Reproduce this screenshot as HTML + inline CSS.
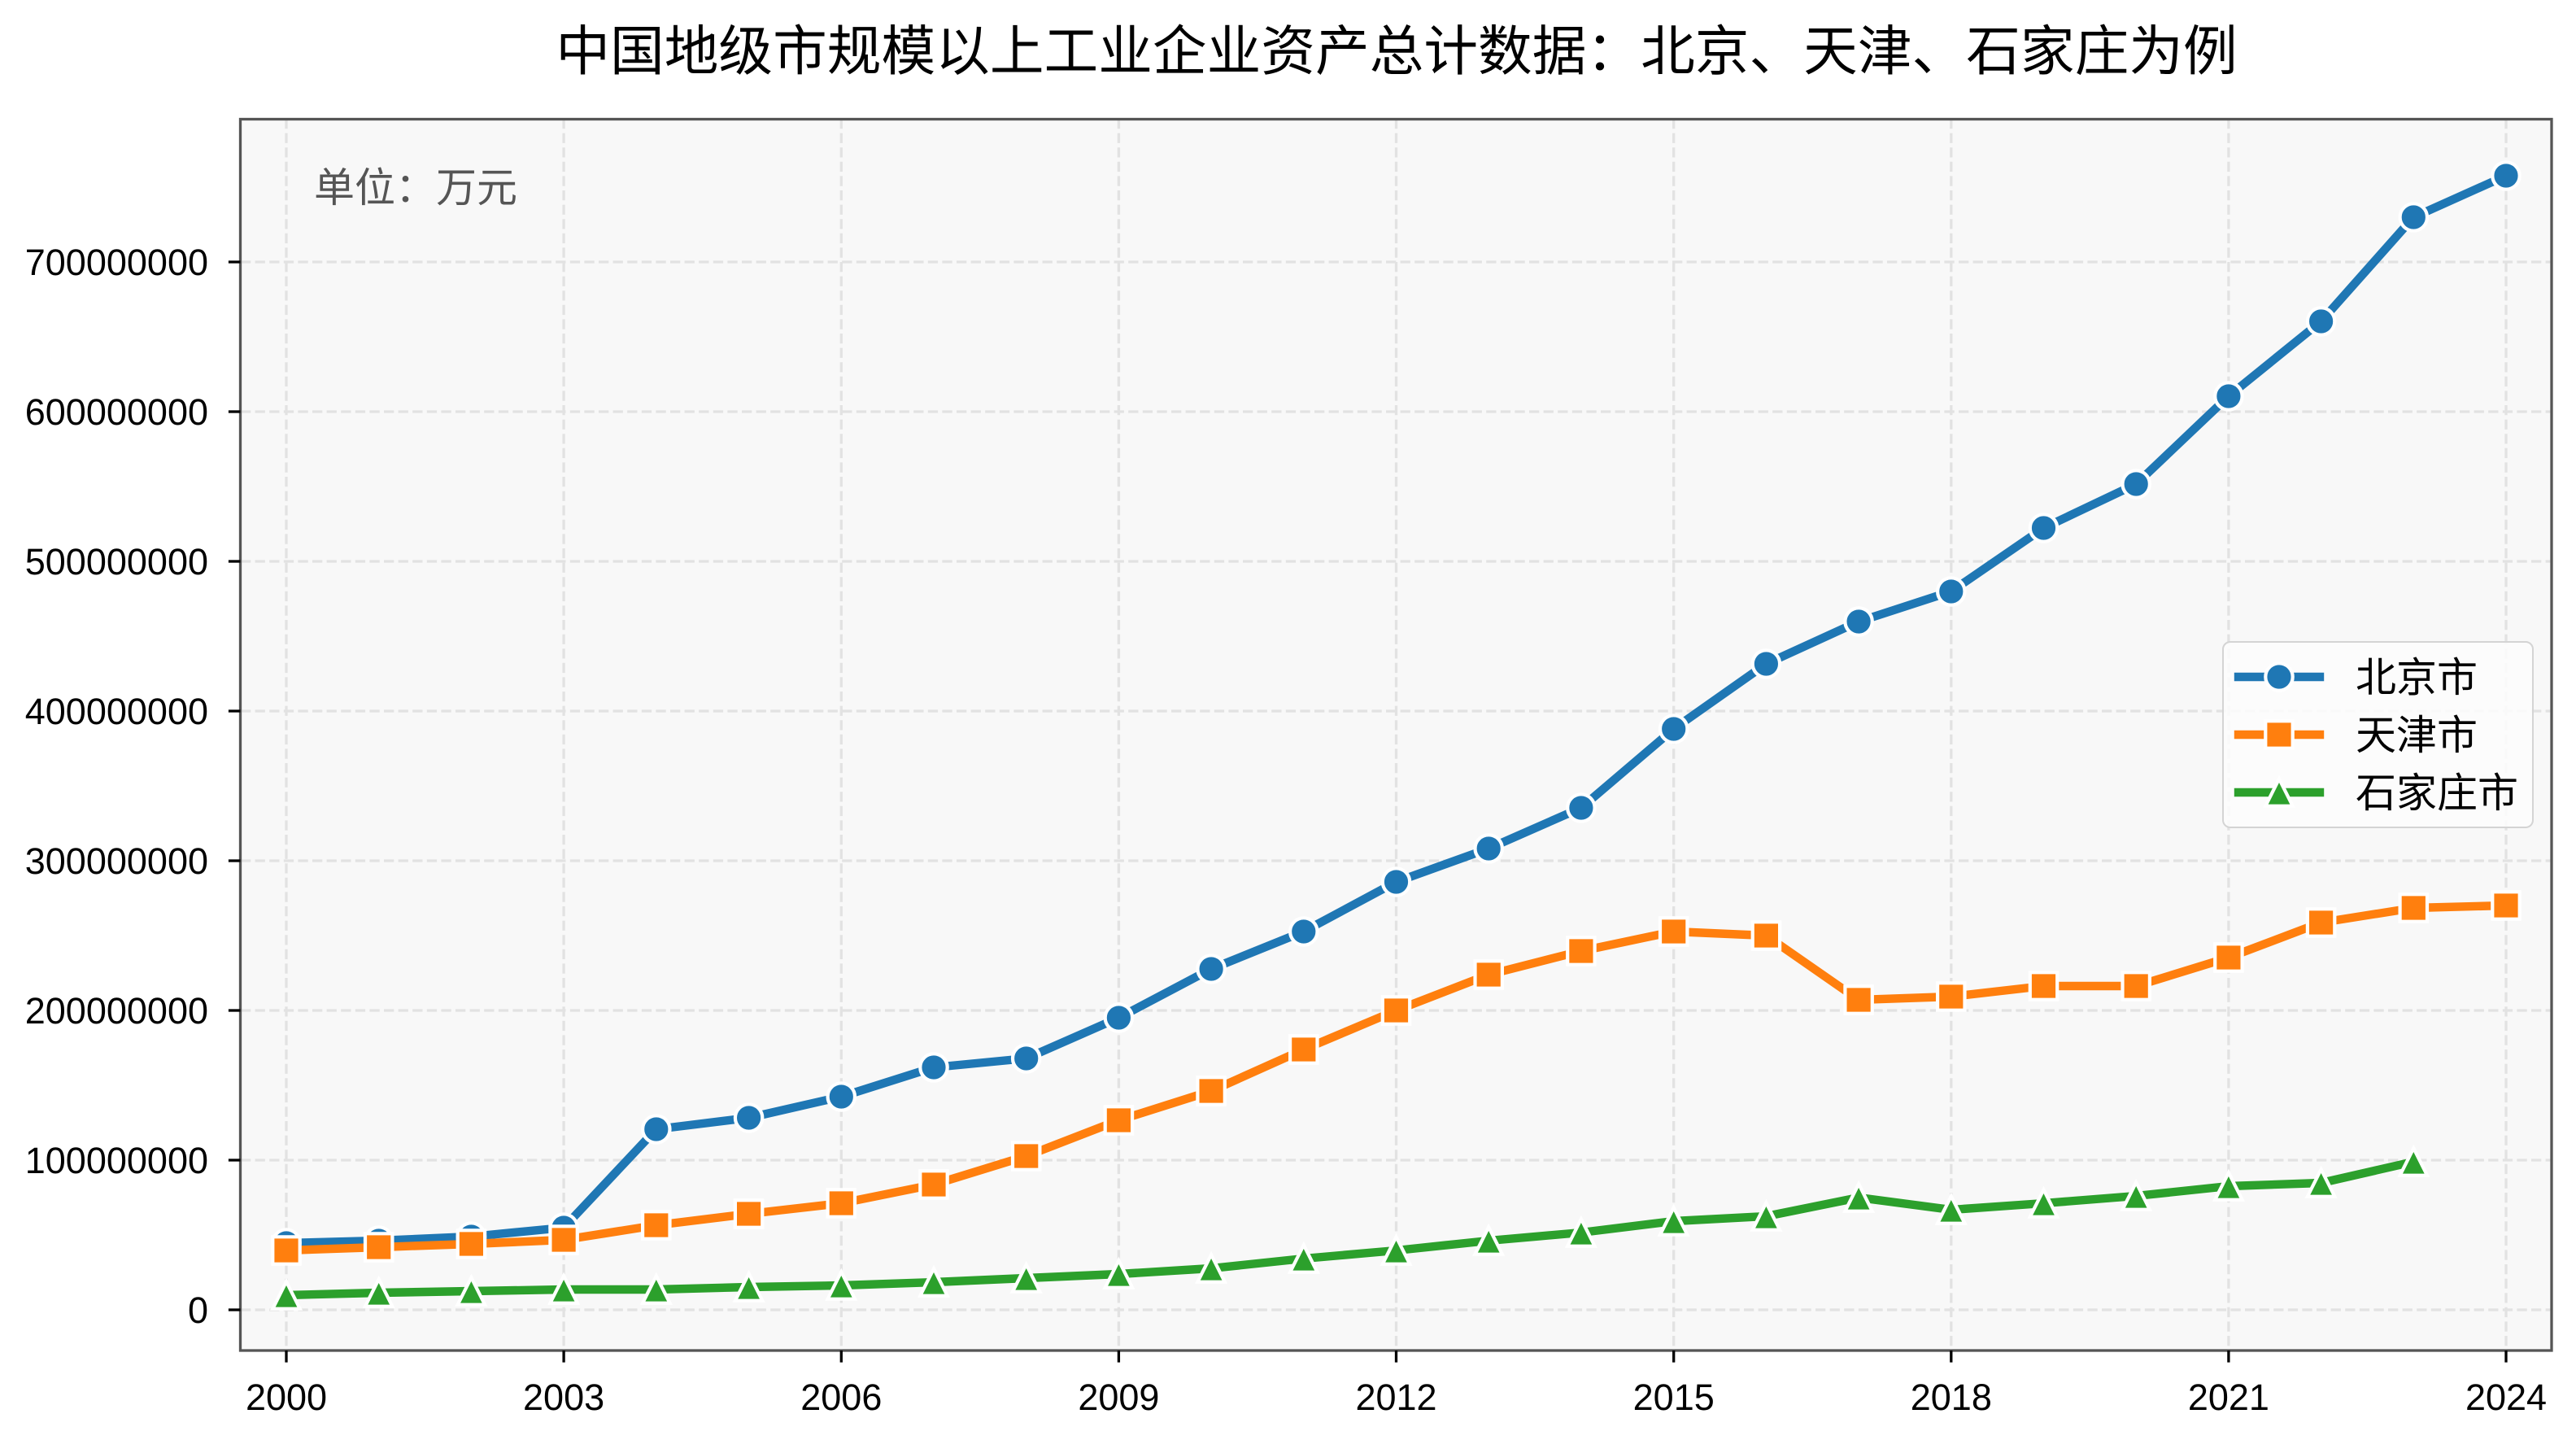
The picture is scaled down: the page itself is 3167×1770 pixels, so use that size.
<!DOCTYPE html>
<html>
<head>
<meta charset="utf-8">
<style>
html,body{margin:0;padding:0;background:#fff;}
svg{display:block;}
.cjk{font-family:"Liberation Sans","WenQuanYi Zen Hei","Noto Sans CJK SC",sans-serif;}
.num{font-family:"Liberation Sans",sans-serif;font-size:45px;fill:#000;}
</style>
</head>
<body>
<svg width="3167" height="1770" viewBox="0 0 3167 1770" xmlns="http://www.w3.org/2000/svg">
<defs>
  <path id="sq" d="M-16.7,-16.7h33.4v33.4h-33.4z"/>
  <path id="tri" d="M0,-16.7L-16.7,16.7L16.7,16.7z"/>
  <clipPath id="ax"><rect x="295.5" y="146.5" width="2841.5" height="1513.5"/></clipPath>
</defs>
<rect x="0" y="0" width="3167" height="1770" fill="#ffffff"/>
<!-- axes background -->
<rect x="295.5" y="146.5" width="2841.5" height="1513.5" fill="#f8f8f8"/>

<!-- grid -->
<g stroke="#e2e2e2" stroke-width="3.3" stroke-dasharray="12.3 5.3" fill="none" clip-path="url(#ax)">
  <line x1="352" y1="146" x2="352" y2="1660"/>
  <line x1="693.1" y1="146" x2="693.1" y2="1660"/>
  <line x1="1034.3" y1="146" x2="1034.3" y2="1660"/>
  <line x1="1375.4" y1="146" x2="1375.4" y2="1660"/>
  <line x1="1716.5" y1="146" x2="1716.5" y2="1660"/>
  <line x1="2057.7" y1="146" x2="2057.7" y2="1660"/>
  <line x1="2398.8" y1="146" x2="2398.8" y2="1660"/>
  <line x1="2739.9" y1="146" x2="2739.9" y2="1660"/>
  <line x1="3081" y1="146" x2="3081" y2="1660"/>
  <line x1="296" y1="1610" x2="3137" y2="1610"/>
  <line x1="296" y1="1426" x2="3137" y2="1426"/>
  <line x1="296" y1="1242" x2="3137" y2="1242"/>
  <line x1="296" y1="1058" x2="3137" y2="1058"/>
  <line x1="296" y1="874" x2="3137" y2="874"/>
  <line x1="296" y1="690" x2="3137" y2="690"/>
  <line x1="296" y1="506" x2="3137" y2="506"/>
  <line x1="296" y1="322" x2="3137" y2="322"/>
</g>

<!-- Beijing -->
<polyline fill="none" stroke="#1f77b4" stroke-width="10.4" stroke-linejoin="round" stroke-linecap="square"
 points="352,1528 465.7,1525 579.4,1520 693.1,1509 806.8,1388 920.6,1374 1034.3,1348 1148,1312 1261.7,1301 1375.4,1251 1489.1,1191 1602.8,1145 1716.5,1084 1830.2,1043 1943.9,993 2057.7,896 2171.4,816 2285.1,764 2398.8,727 2512.5,649 2626.2,595 2739.9,487 2853.6,395 2967.3,267 3081,216"/>
<g fill="#1f77b4" stroke="#ffffff" stroke-width="4.2">
  <circle cx="352" cy="1528" r="16.7"/>
  <circle cx="465.7" cy="1525" r="16.7"/>
  <circle cx="579.4" cy="1520" r="16.7"/>
  <circle cx="693.1" cy="1509" r="16.7"/>
  <circle cx="806.8" cy="1388" r="16.7"/>
  <circle cx="920.6" cy="1374" r="16.7"/>
  <circle cx="1034.3" cy="1348" r="16.7"/>
  <circle cx="1148" cy="1312" r="16.7"/>
  <circle cx="1261.7" cy="1301" r="16.7"/>
  <circle cx="1375.4" cy="1251" r="16.7"/>
  <circle cx="1489.1" cy="1191" r="16.7"/>
  <circle cx="1602.8" cy="1145" r="16.7"/>
  <circle cx="1716.5" cy="1084" r="16.7"/>
  <circle cx="1830.2" cy="1043" r="16.7"/>
  <circle cx="1943.9" cy="993" r="16.7"/>
  <circle cx="2057.7" cy="896" r="16.7"/>
  <circle cx="2171.4" cy="816" r="16.7"/>
  <circle cx="2285.1" cy="764" r="16.7"/>
  <circle cx="2398.8" cy="727" r="16.7"/>
  <circle cx="2512.5" cy="649" r="16.7"/>
  <circle cx="2626.2" cy="595" r="16.7"/>
  <circle cx="2739.9" cy="487" r="16.7"/>
  <circle cx="2853.6" cy="395" r="16.7"/>
  <circle cx="2967.3" cy="267" r="16.7"/>
  <circle cx="3081" cy="216" r="16.7"/>
</g>

<!-- Tianjin -->
<polyline fill="none" stroke="#ff7f0e" stroke-width="10.4" stroke-linejoin="round" stroke-linecap="square"
 points="352,1537 465.7,1533 579.4,1529 693.1,1524 806.8,1506 920.6,1492 1034.3,1479 1148,1456 1261.7,1421 1375.4,1377 1489.1,1341 1602.8,1290 1716.5,1242 1830.2,1198 1943.9,1169 2057.7,1145 2171.4,1150 2285.1,1229 2398.8,1225 2512.5,1212 2626.2,1212 2739.9,1177 2853.6,1134 2967.3,1116 3081,1113"/>
<g fill="#ff7f0e" stroke="#ffffff" stroke-width="4.2" stroke-linejoin="miter">
  <use href="#sq" x="352" y="1537"/>
  <use href="#sq" x="465.7" y="1533"/>
  <use href="#sq" x="579.4" y="1529"/>
  <use href="#sq" x="693.1" y="1524"/>
  <use href="#sq" x="806.8" y="1506"/>
  <use href="#sq" x="920.6" y="1492"/>
  <use href="#sq" x="1034.3" y="1479"/>
  <use href="#sq" x="1148" y="1456"/>
  <use href="#sq" x="1261.7" y="1421"/>
  <use href="#sq" x="1375.4" y="1377"/>
  <use href="#sq" x="1489.1" y="1341"/>
  <use href="#sq" x="1602.8" y="1290"/>
  <use href="#sq" x="1716.5" y="1242"/>
  <use href="#sq" x="1830.2" y="1198"/>
  <use href="#sq" x="1943.9" y="1169"/>
  <use href="#sq" x="2057.7" y="1145"/>
  <use href="#sq" x="2171.4" y="1150"/>
  <use href="#sq" x="2285.1" y="1229"/>
  <use href="#sq" x="2398.8" y="1225"/>
  <use href="#sq" x="2512.5" y="1212"/>
  <use href="#sq" x="2626.2" y="1212"/>
  <use href="#sq" x="2739.9" y="1177"/>
  <use href="#sq" x="2853.6" y="1134"/>
  <use href="#sq" x="2967.3" y="1116"/>
  <use href="#sq" x="3081" y="1113"/>
</g>

<!-- Shijiazhuang -->
<polyline fill="none" stroke="#2ca02c" stroke-width="10.4" stroke-linejoin="round" stroke-linecap="square"
 points="352,1592 465.7,1589 579.4,1587 693.1,1585 806.8,1585 920.6,1582 1034.3,1580 1148,1576 1261.7,1571 1375.4,1566 1489.1,1559 1602.8,1547 1716.5,1537 1830.2,1525 1943.9,1515 2057.7,1501 2171.4,1495 2285.1,1472 2398.8,1487 2512.5,1479 2626.2,1470 2739.9,1458 2853.6,1454 2967.3,1428"/>
<g fill="#2ca02c" stroke="#ffffff" stroke-width="4.2" stroke-linejoin="miter">
  <use href="#tri" x="352" y="1592"/>
  <use href="#tri" x="465.7" y="1589"/>
  <use href="#tri" x="579.4" y="1587"/>
  <use href="#tri" x="693.1" y="1585"/>
  <use href="#tri" x="806.8" y="1585"/>
  <use href="#tri" x="920.6" y="1582"/>
  <use href="#tri" x="1034.3" y="1580"/>
  <use href="#tri" x="1148" y="1576"/>
  <use href="#tri" x="1261.7" y="1571"/>
  <use href="#tri" x="1375.4" y="1566"/>
  <use href="#tri" x="1489.1" y="1559"/>
  <use href="#tri" x="1602.8" y="1547"/>
  <use href="#tri" x="1716.5" y="1537"/>
  <use href="#tri" x="1830.2" y="1525"/>
  <use href="#tri" x="1943.9" y="1515"/>
  <use href="#tri" x="2057.7" y="1501"/>
  <use href="#tri" x="2171.4" y="1495"/>
  <use href="#tri" x="2285.1" y="1472"/>
  <use href="#tri" x="2398.8" y="1487"/>
  <use href="#tri" x="2512.5" y="1479"/>
  <use href="#tri" x="2626.2" y="1470"/>
  <use href="#tri" x="2739.9" y="1458"/>
  <use href="#tri" x="2853.6" y="1454"/>
  <use href="#tri" x="2967.3" y="1428"/>
</g>

<!-- unit label -->
<text x="386" y="248" class="cjk" font-size="50" fill="#555555">单位：万元</text>

<!-- legend -->
<rect x="2733" y="789" width="381" height="228" rx="9" ry="9" fill="#fcfcfc" fill-opacity="0.9" stroke="#d4d4d4" stroke-width="2"/>
<line x1="2752" y1="832" x2="2852" y2="832" stroke="#1f77b4" stroke-width="10.4" stroke-linecap="square"/>
<circle cx="2802" cy="832" r="16.7" fill="#1f77b4" stroke="#ffffff" stroke-width="4.2"/>
<line x1="2752" y1="903" x2="2852" y2="903" stroke="#ff7f0e" stroke-width="10.4" stroke-linecap="square"/>
<use href="#sq" x="2802" y="903" fill="#ff7f0e" stroke="#ffffff" stroke-width="4.2"/>
<line x1="2752" y1="974" x2="2852" y2="974" stroke="#2ca02c" stroke-width="10.4" stroke-linecap="square"/>
<use href="#tri" x="2802" y="974" fill="#2ca02c" stroke="#ffffff" stroke-width="4.2"/>
<text x="2896" y="850" class="cjk" font-size="50" fill="#000">北京市</text>
<text x="2896" y="921" class="cjk" font-size="50" fill="#000">天津市</text>
<text x="2896" y="992" class="cjk" font-size="50" fill="#000">石家庄市</text>

<!-- spines -->
<rect x="295.5" y="146.5" width="2841.5" height="1513.5" fill="none" stroke="#555555" stroke-width="3.3"/>

<!-- ticks -->
<g stroke="#000" stroke-width="3.3">
  <line x1="280.9" y1="1610" x2="295.5" y2="1610"/>
  <line x1="280.9" y1="1426" x2="295.5" y2="1426"/>
  <line x1="280.9" y1="1242" x2="295.5" y2="1242"/>
  <line x1="280.9" y1="1058" x2="295.5" y2="1058"/>
  <line x1="280.9" y1="874" x2="295.5" y2="874"/>
  <line x1="280.9" y1="690" x2="295.5" y2="690"/>
  <line x1="280.9" y1="506" x2="295.5" y2="506"/>
  <line x1="280.9" y1="322" x2="295.5" y2="322"/>
  <line x1="352" y1="1660" x2="352" y2="1674.6"/>
  <line x1="693.1" y1="1660" x2="693.1" y2="1674.6"/>
  <line x1="1034.3" y1="1660" x2="1034.3" y2="1674.6"/>
  <line x1="1375.4" y1="1660" x2="1375.4" y2="1674.6"/>
  <line x1="1716.5" y1="1660" x2="1716.5" y2="1674.6"/>
  <line x1="2057.7" y1="1660" x2="2057.7" y2="1674.6"/>
  <line x1="2398.8" y1="1660" x2="2398.8" y2="1674.6"/>
  <line x1="2739.9" y1="1660" x2="2739.9" y2="1674.6"/>
  <line x1="3081" y1="1660" x2="3081" y2="1674.6"/>
</g>

<!-- y tick labels -->
<g class="num" text-anchor="end">
  <text x="256" y="1626">0</text>
  <text x="256" y="1442">100000000</text>
  <text x="256" y="1258">200000000</text>
  <text x="256" y="1074">300000000</text>
  <text x="256" y="890">400000000</text>
  <text x="256" y="706">500000000</text>
  <text x="256" y="522">600000000</text>
  <text x="256" y="338">700000000</text>
</g>

<!-- x tick labels -->
<g class="num" text-anchor="middle">
  <text x="352" y="1733">2000</text>
  <text x="693.1" y="1733">2003</text>
  <text x="1034.3" y="1733">2006</text>
  <text x="1375.4" y="1733">2009</text>
  <text x="1716.5" y="1733">2012</text>
  <text x="2057.7" y="1733">2015</text>
  <text x="2398.8" y="1733">2018</text>
  <text x="2739.9" y="1733">2021</text>
  <text x="3081" y="1733">2024</text>
</g>

<!-- title -->
<text x="1717" y="86" class="cjk" font-size="66.7" fill="#000" text-anchor="middle">中国地级市规模以上工业企业资产总计数据：北京、天津、石家庄为例</text>
</svg>
</body>
</html>
